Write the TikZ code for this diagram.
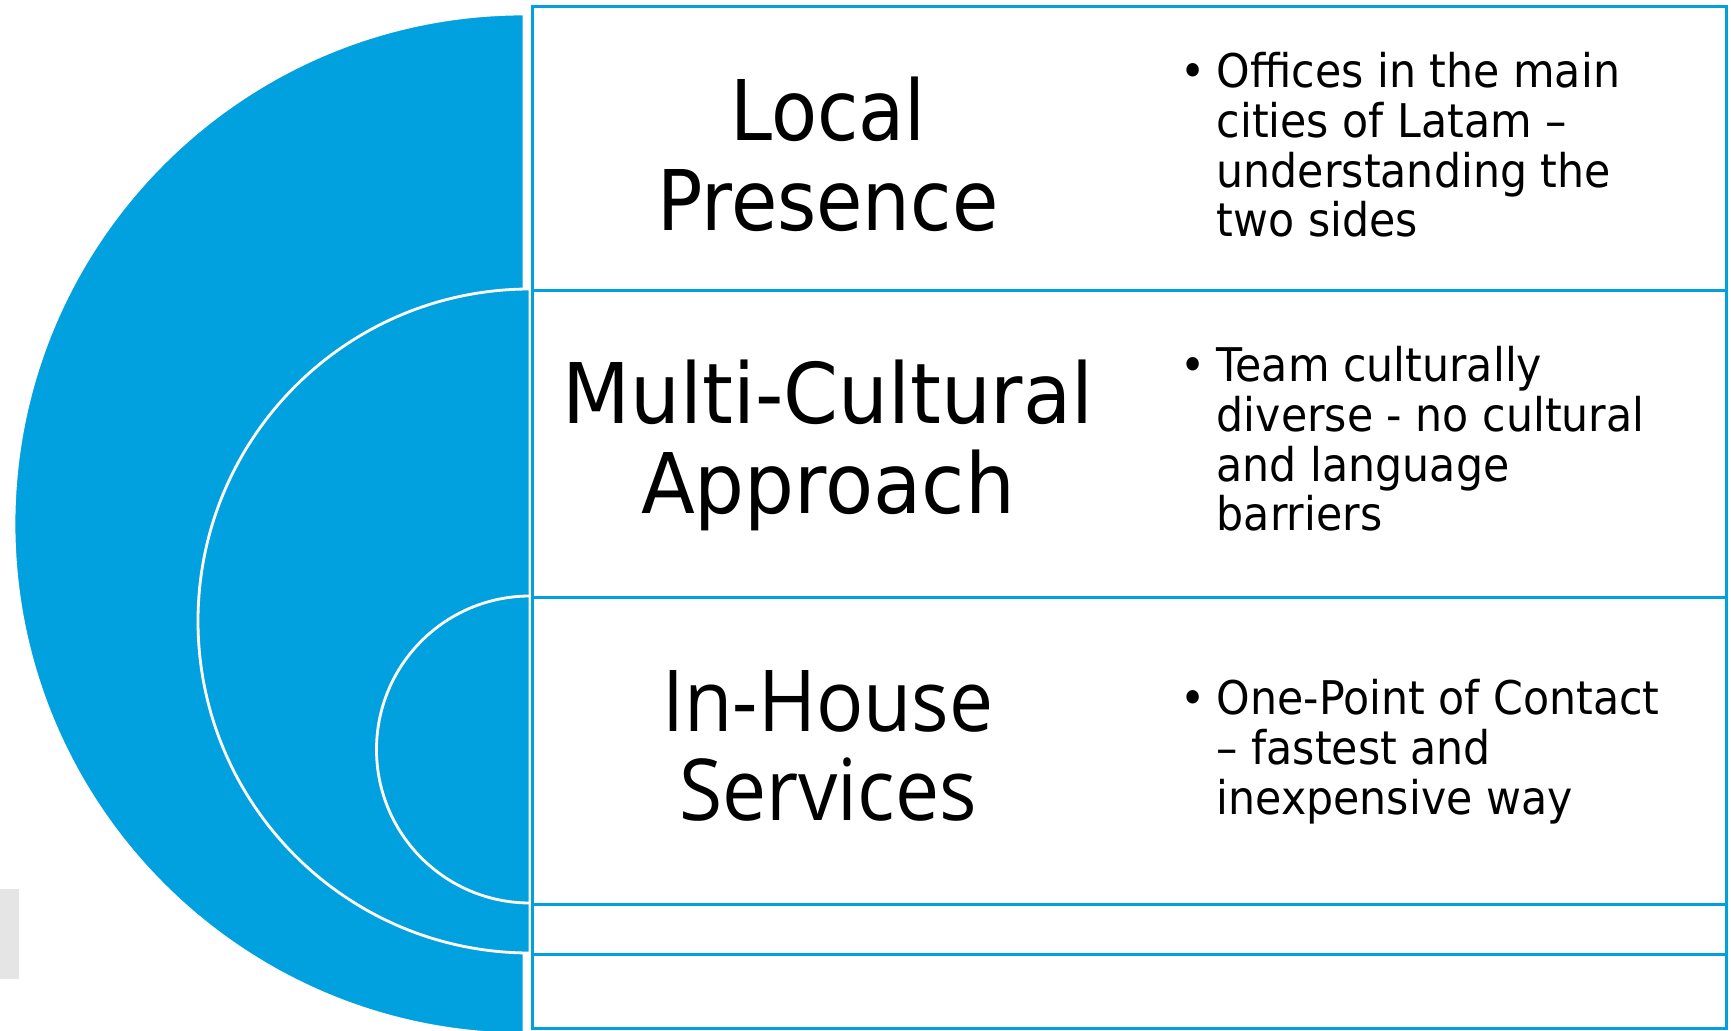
\documentclass[tikz,border=0pt]{standalone}
\usepackage{fontspec}
\setmainfont{DejaVu Sans}[FakeStretch=0.9]
\newfontfamily\pointfont{DejaVu Sans}[FakeStretch=0.92]
\newfontfamily\widefont{DejaVu Sans}[FakeStretch=0.94]
\newfontfamily\housefont{Open Sans}[FakeStretch=0.92]
\definecolor{latamblue}{RGB}{0,161,222}

\begin{document}
\begin{tikzpicture}[x=0.01cm,y=0.01cm,
  ring/.style={fill=latamblue,draw=white,line width=0.8pt},
  rowbox/.style={rectangle,draw=latamblue,line width=0.85pt,inner sep=0pt,anchor=north west,minimum width=11.93cm},
  title/.style={align=center,inner sep=0pt,anchor=north,font=\fontsize{23.8pt}{25.6pt}\selectfont},
  points/.style={align=left,inner sep=0pt,anchor=north west,font=\pointfont\fontsize{13.2pt}{14.1pt}\selectfont}]
\useasboundingbox (0,0) rectangle (1731,1030);
\clip (0,0) rectangle (1731,1030);

\fill[black!10] (0,51) rectangle (19,141);

\draw[ring] (524,1016) arc[start angle=90,end angle=270,radius=510] -- cycle;
\draw[ring] (530,741) arc[start angle=90,end angle=270,radius=332] -- cycle;
\draw[ring] (530,434) arc[start angle=90,end angle=270,radius=153.5] -- cycle;

\node[rowbox,minimum height=2.835cm] (local) at (531,1024.5) {};
\node[rowbox,minimum height=3.07cm] (multi) at (531,741) {};
\node[rowbox,minimum height=3.07cm] (house) at (531,434) {};
\node[rowbox,minimum height=0.5cm] (spare) at (531,127) {};
\node[rowbox,minimum height=0.74cm] (last) at (531,77) {};

\node[title] (tlocal) at (828,954) {Local\\Presence};
\node[title,font=\widefont\fontsize{23.8pt}{25.6pt}\selectfont] (tmulti) at (828,671) {Multi-Cultural\\Approach};
\node[title,font=\housefont\fontsize{24.3pt}{25.3pt}\selectfont] (thouse) at (828,360) {In-House\\Services};

\node[points] (plocal) at (1216,978) {\llap{•\hspace{3.2pt}}Offices in the main\\cities of Latam –\\understanding the\\two sides};
\node[points] (pmulti) at (1216,684) {\llap{•\hspace{3.2pt}}Team culturally\\diverse - no cultural\\and language\\barriers};
\node[points] (phouse) at (1216,351) {\llap{•\hspace{3.2pt}}One-Point of Contact\\– fastest and\\inexpensive way};
\end{tikzpicture}
\end{document}
